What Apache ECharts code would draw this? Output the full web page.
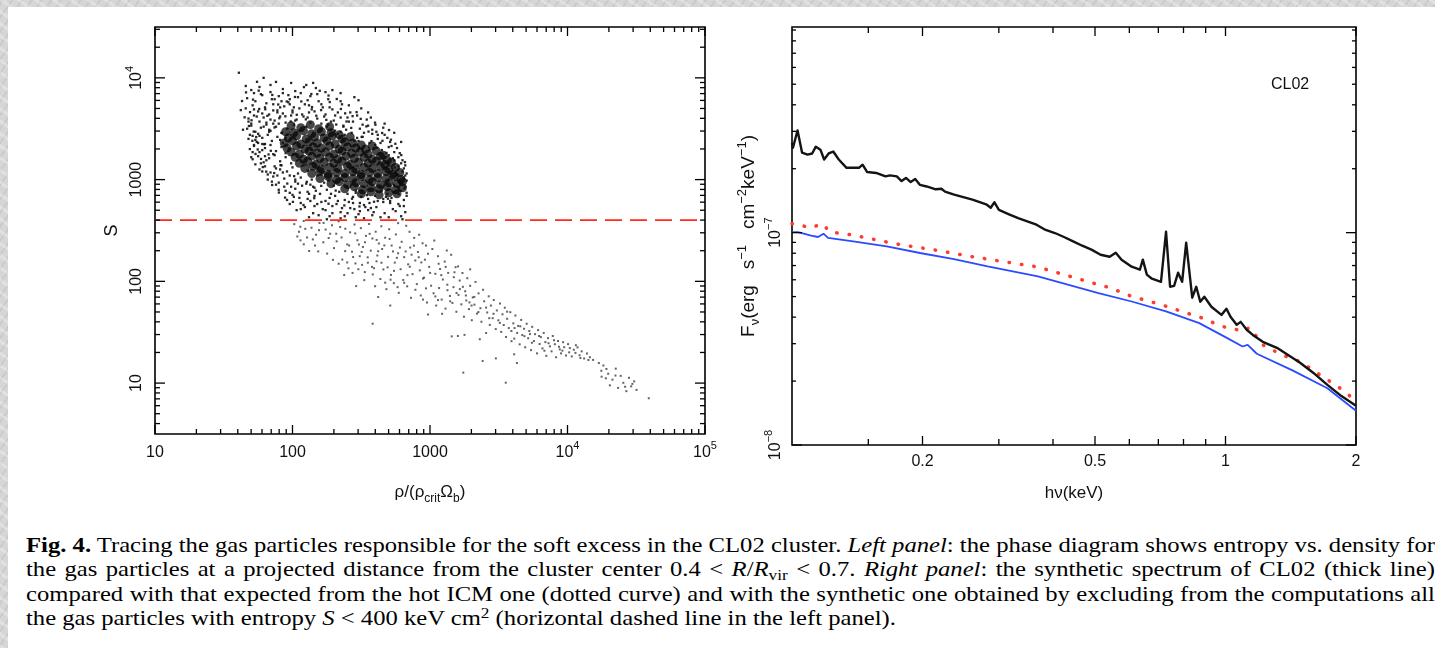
<!DOCTYPE html>
<html>
<head>
<meta charset="utf-8">
<script src="https://cdn.jsdelivr.net/npm/echarts@6/dist/echarts.min.js"></script>
<style>
html,body{margin:0;padding:0;}
body{width:1435px;height:648px;overflow:hidden;position:relative;
  background-color:#d6d6d6;
  background-image:repeating-linear-gradient(35deg,rgba(255,255,255,0.28) 0 3px,rgba(0,0,0,0) 3px 10px),
                   repeating-linear-gradient(-55deg,rgba(0,0,0,0.05) 0 2px,rgba(0,0,0,0) 2px 8px);}
#paper{position:absolute;left:8px;top:7px;right:0;bottom:0;background:#fff;}
#chart{position:absolute;left:0;top:0;width:1435px;height:530px;}
#caption{position:absolute;left:26px;top:533px;width:1258px;transform:scaleX(1.12);transform-origin:0 0;
  font-family:"Liberation Serif","DejaVu Serif",serif;font-size:22px;line-height:24.4px;color:#000;}
#caption div{text-align:justify;text-align-last:justify;white-space:nowrap;}
#caption div.last{text-align-last:left;}
#caption sub{font-size:0.7em;line-height:0;vertical-align:-0.25em;}
#caption sup{font-size:0.7em;line-height:0;vertical-align:0.45em;}
</style>
</head>
<body>
<div id="paper"></div>
<div id="chart"></div>
<div id="caption">
<div><b>Fig. 4.</b> Tracing the gas particles responsible for the soft excess in the CL02 cluster. <i>Left panel</i>: the phase diagram shows entropy vs. density for</div>
<div>the gas particles at a projected distance from the cluster center 0.4 &lt; <i>R</i>/<i>R</i><sub>vir</sub> &lt; 0.7. <i>Right panel</i>: the synthetic spectrum of CL02 (thick line)</div>
<div>compared with that expected from the hot ICM one (dotted curve) and with the synthetic one obtained by excluding from the computations all</div>
<div class="last">the gas particles with entropy <i>S</i> &lt; 400 keV cm<sup>2</sup> (horizontal dashed line in the left panel).</div>
</div>
<script>
// ---------------- LEFT PANEL DATA (log10 rho/(rho_crit Omega_b), log10 S) ----------------
const rhoRange = [10, 1e5];
const entropyRange = [3.16, 31600];
const rhoTickValues = [10, 100, 1000, 1e4, 1e5];
const rhoTickLabels = ['10', '100', '1000', '10^4', '10^5'];
const entropyTickValues = [10, 100, 1000, 1e4];
const entropyTickLabels = ['10', '100', '1000', '10^4'];
const entropyCut = 400;

// dense core of the hot phase
const coreLogPts = [
[1.99,3.53],[2.06,3.51],[2.13,3.54],[2.19,3.50],[2.27,3.52],
[1.95,3.47],[2.01,3.46],[2.08,3.48],[2.14,3.45],[2.21,3.47],[2.28,3.46],[2.34,3.44],
[1.97,3.41],[2.03,3.43],[2.10,3.40],[2.16,3.42],[2.23,3.41],[2.29,3.43],[2.36,3.40],[2.42,3.42],
[1.94,3.36],[2.00,3.38],[2.06,3.35],[2.12,3.37],[2.18,3.36],[2.25,3.38],[2.31,3.35],[2.38,3.37],[2.44,3.36],[2.50,3.34],
[1.96,3.31],[2.03,3.33],[2.09,3.30],[2.15,3.32],[2.21,3.31],[2.27,3.33],[2.34,3.30],[2.40,3.32],[2.46,3.31],[2.53,3.30],[2.58,3.33],
[1.99,3.27],[2.05,3.25],[2.12,3.28],[2.18,3.26],[2.24,3.27],[2.30,3.25],[2.36,3.28],[2.43,3.26],[2.49,3.27],[2.55,3.25],[2.61,3.28],[2.66,3.24],
[2.02,3.22],[2.08,3.20],[2.14,3.23],[2.20,3.21],[2.27,3.22],[2.33,3.20],[2.39,3.23],[2.45,3.21],[2.52,3.22],[2.58,3.20],[2.64,3.23],[2.69,3.19],
[2.05,3.16],[2.11,3.18],[2.17,3.15],[2.23,3.17],[2.30,3.16],[2.36,3.18],[2.42,3.15],[2.48,3.17],[2.55,3.16],[2.61,3.18],[2.67,3.15],[2.72,3.17],
[2.09,3.11],[2.15,3.13],[2.21,3.10],[2.27,3.12],[2.33,3.11],[2.40,3.13],[2.46,3.10],[2.52,3.12],[2.58,3.11],[2.64,3.13],[2.70,3.10],[2.75,3.12],
[2.14,3.06],[2.20,3.08],[2.26,3.05],[2.32,3.07],[2.38,3.06],[2.44,3.08],[2.50,3.05],[2.56,3.07],[2.62,3.06],[2.68,3.08],[2.73,3.05],[2.78,3.07],
[2.20,3.01],[2.26,3.03],[2.32,3.00],[2.38,3.02],[2.44,3.01],[2.50,3.03],[2.56,3.00],[2.62,3.02],[2.68,3.01],[2.74,3.03],[2.79,3.00],
[2.28,2.96],[2.34,2.98],[2.40,2.95],[2.46,2.97],[2.52,2.96],[2.58,2.98],[2.64,2.95],[2.70,2.97],[2.76,2.96],[2.80,2.98],
[2.38,2.91],[2.45,2.93],[2.51,2.90],[2.57,2.92],[2.63,2.91],[2.69,2.93],[2.75,2.90],[2.80,2.92],
[2.50,2.86],[2.57,2.88],[2.63,2.85],[2.70,2.87],[2.76,2.86]
];
// surrounding cloud of the hot phase (above the cut)
const cloudLogPts = [
[1.61,4.05],[1.79,4.00],[1.88,3.96],[1.66,3.92],[2.10,3.93],
[1.70,3.88],[1.76,3.91],[1.84,3.86],[1.93,3.89],[2.02,3.87],[2.17,3.90],[2.24,3.86],[1.72,3.85],
[1.67,3.80],[1.73,3.77],[1.78,3.83],[1.85,3.79],[1.90,3.82],[1.97,3.76],[2.04,3.81],[2.11,3.78],[2.18,3.84],[2.26,3.79],[2.35,3.77],[2.45,3.81],[1.81,3.75],
[1.66,3.70],[1.71,3.73],[1.75,3.67],[1.80,3.71],[1.86,3.74],[1.89,3.68],[1.94,3.72],[2.00,3.66],[2.05,3.70],[2.12,3.73],[2.16,3.67],[2.22,3.71],[2.29,3.69],[2.36,3.74],[2.42,3.66],[2.50,3.70],[1.78,3.65],[1.98,3.74],
[1.68,3.60],[1.72,3.63],[1.76,3.57],[1.79,3.61],[1.83,3.64],[1.87,3.58],[1.91,3.62],[1.95,3.56],[1.99,3.63],[2.03,3.59],[2.08,3.62],[2.13,3.56],[2.18,3.60],[2.24,3.64],[2.30,3.58],[2.35,3.61],[2.41,3.57],[2.47,3.63],[2.54,3.59],[2.60,3.56],[1.70,3.55],[1.93,3.65],[2.21,3.55],
[1.67,3.50],[1.70,3.53],[1.73,3.47],[1.77,3.51],[1.81,3.54],[1.84,3.48],[1.88,3.52],[1.92,3.46],[1.96,3.50],[2.01,3.54],[2.05,3.48],[2.10,3.52],[2.15,3.46],[2.20,3.50],[2.26,3.54],[2.31,3.48],[2.37,3.52],[2.43,3.46],[2.49,3.50],[2.55,3.53],[2.61,3.47],[2.66,3.51],[1.75,3.45],[1.86,3.55],[2.33,3.45],
[1.68,3.40],[1.71,3.43],[1.74,3.37],[1.78,3.41],[1.82,3.44],[1.85,3.38],[1.89,3.42],[1.93,3.36],[2.38,3.44],[2.45,3.38],[2.51,3.42],[2.56,3.36],[2.62,3.40],[2.67,3.44],[2.71,3.37],[1.80,3.35],[1.96,3.44],[2.58,3.45],[1.91,3.39],
[1.69,3.30],[1.72,3.33],[1.76,3.27],[1.80,3.31],[1.84,3.34],[1.88,3.28],[1.92,3.32],[2.60,3.34],[2.65,3.29],[2.70,3.32],[2.74,3.27],[2.76,3.31],[1.95,3.26],[1.78,3.35],[1.86,3.25],
[1.71,3.20],[1.75,3.23],[1.79,3.17],[1.83,3.21],[1.87,3.24],[1.91,3.18],[1.95,3.22],[1.99,3.16],[2.70,3.24],[2.74,3.19],[2.77,3.22],[2.79,3.16],[1.73,3.15],[2.01,3.25],
[1.76,3.10],[1.80,3.13],[1.84,3.07],[1.88,3.11],[1.92,3.14],[1.96,3.08],[2.00,3.12],[2.04,3.06],[2.08,3.14],[2.77,3.13],[2.80,3.08],[2.81,3.11],[1.82,3.05],[2.11,3.09],
[1.82,3.00],[1.86,3.03],[1.90,2.97],[1.94,3.01],[1.98,3.04],[2.02,2.98],[2.06,3.02],[2.10,2.96],[2.14,3.00],[2.18,3.04],[2.23,2.97],[2.82,3.04],[2.83,2.99],[1.88,2.95],[2.26,2.99],
[1.90,2.90],[1.94,2.93],[1.98,2.87],[2.02,2.91],[2.07,2.94],[2.11,2.88],[2.16,2.92],[2.20,2.86],[2.25,2.90],[2.30,2.94],[2.34,2.88],[2.40,2.86],[2.46,2.89],[2.82,2.93],[2.83,2.87],[2.00,2.85],[2.13,2.95],
[1.96,2.80],[2.01,2.83],[2.06,2.77],[2.11,2.81],[2.16,2.84],[2.21,2.78],[2.27,2.82],[2.32,2.76],[2.38,2.80],[2.44,2.83],[2.49,2.77],[2.55,2.81],[2.60,2.84],[2.66,2.78],[2.72,2.82],[2.77,2.76],[2.81,2.80],[2.83,2.84],[2.08,2.75],[2.52,2.75],
[2.03,2.70],[2.09,2.73],[2.15,2.67],[2.22,2.71],[2.29,2.74],[2.35,2.68],[2.42,2.72],[2.48,2.66],[2.55,2.70],[2.61,2.73],[2.67,2.67],[2.73,2.71],[2.78,2.74],[2.82,2.68],[2.19,2.65],[2.58,2.65],
[2.12,2.63],[2.25,2.61],[2.38,2.64],[2.52,2.62],[2.70,2.63],[2.80,2.61]
];
// more scattered hot-phase particles
const cloudExtraLogPts = [
[1.74,3.62],[1.83,3.49],[1.91,3.71],[2.07,3.64],[2.19,3.77],[2.33,3.66],[1.69,3.44],[1.78,3.29],[1.87,3.13],[1.95,3.41],
[2.02,3.58],[2.14,3.69],[2.28,3.57],[2.39,3.49],[2.47,3.41],[2.56,3.29],[2.63,3.17],[2.71,3.06],[2.79,2.95],[2.68,2.83],
[2.57,2.72],[2.44,2.77],[2.31,2.84],[2.17,2.89],[2.04,2.96],[1.93,3.07],[1.81,3.19],[1.72,3.34],[1.79,3.52],[1.86,3.68],
[1.97,3.83],[2.09,3.74],[2.23,3.62],[2.37,3.53],[2.52,3.46],[2.64,3.36],[2.73,3.21],[2.81,3.02],[2.74,2.88],[2.62,2.79],
[2.49,2.69],[2.36,2.72],[2.24,2.79],[2.12,2.86],[1.99,2.93],[1.89,3.04],[1.77,3.16],[1.71,3.27],[1.76,3.43],[1.84,3.59],
[1.92,3.77],[2.06,3.85],[2.21,3.74],[2.31,3.63],[2.44,3.57],[2.58,3.49],[2.69,3.41],[2.78,3.26],[2.82,3.14],[2.79,2.89],
[2.71,2.77],[2.59,2.68],[2.46,2.63],[2.29,2.67],[2.16,2.74],[2.05,2.82],[1.95,2.89],[1.85,2.98],[1.78,3.08],[1.70,3.22],
[1.73,3.39],[1.81,3.56],[1.89,3.66],[1.98,3.79],[2.13,3.82],[2.27,3.71],[2.40,3.61],[2.51,3.54],[2.62,3.44],[2.72,3.33],
[2.80,3.19],[2.83,3.06],[2.77,2.92],[2.66,2.81],[2.53,2.73],[2.41,2.78],[2.28,2.86],[2.15,2.93],[2.02,3.00],[1.91,3.10],
[1.80,3.23],[1.75,3.36],[1.83,3.47],[1.90,3.55],[2.00,3.68],[2.11,3.61],[2.25,3.52],[2.35,3.47],[2.48,3.38],[2.59,3.31],
[1.68,3.57],[1.64,3.49],[1.72,3.69],[1.77,3.84],[1.84,3.93],[2.15,3.95],[2.29,3.88],[2.41,3.73],[2.55,3.66],[2.67,3.55],
[2.74,3.46],[2.79,3.37],[2.57,3.61],[2.48,3.78],[2.35,3.85],[1.99,3.95],[1.93,3.85],[1.87,3.79],[2.01,3.71],[2.12,3.66],
[2.06,2.71],[2.18,2.76],[2.27,2.64],[2.33,2.79],[2.45,2.71],[2.56,2.77],[2.64,2.63],[2.75,2.69],[2.81,2.74],[2.69,2.86],
[2.13,2.79],[2.40,2.67],[2.50,2.83],[2.61,2.89],[2.24,2.70],[1.98,2.76],[2.79,2.64],[2.35,2.62],[2.46,2.87],[2.71,2.79],
[1.702,3.583],[1.736,3.418],[1.758,3.694],[1.793,3.347],[1.817,3.627],[1.842,3.283],[1.869,3.512],[1.896,3.738],[1.923,3.457],[1.948,3.622],
[1.973,3.306],[1.987,3.571],[2.031,3.637],[2.064,3.768],[2.097,3.592],[2.142,3.713],[2.173,3.628],[2.208,3.683],[2.246,3.587],[2.271,3.762],
[2.318,3.541],[2.352,3.694],[2.393,3.571],[2.427,3.508],[2.466,3.663],[2.503,3.419],[2.537,3.523],[2.574,3.378],[2.615,3.314],[2.652,3.458],
[2.683,3.262],[2.716,3.392],[2.743,3.118],[2.768,3.047],[2.794,2.984],[2.813,2.912],[2.772,2.857],[2.738,2.946],[2.694,2.812],[2.647,2.893],
[2.593,2.782],[2.541,2.847],[2.487,2.736],[2.433,2.812],[2.377,2.746],[2.314,2.892],[2.262,2.763],[2.209,2.938],[2.158,2.817],[2.104,2.978],
[2.053,2.872],[2.012,3.034],[1.962,2.961],[1.913,3.142],[1.867,3.064],[1.826,3.247],[1.784,3.123],[1.747,3.296],[1.718,3.472],[1.691,3.663],
[1.713,3.786],[1.754,3.874],[1.802,3.691],[1.853,3.832],[1.904,3.603],[1.958,3.768],[2.018,3.812],[2.083,3.909],[2.137,3.841],[2.198,3.873],
[2.262,3.826],[2.322,3.792],[2.383,3.651],[2.437,3.624],[2.496,3.597],[2.553,3.472],[2.603,3.539],[2.654,3.381],[2.702,3.487],[2.748,3.352],
[2.791,3.241],[2.818,3.172],[1.652,3.612],[1.683,3.527],[1.708,3.381],[1.731,3.252],[1.771,3.203],[1.809,3.078],[1.852,2.947],[1.901,2.873],
[1.946,2.823],[2.003,2.781],[1.633,3.772],[1.662,3.857],[1.742,3.961],[1.624,3.683]
];
// low-entropy tail (below and around the cut)
const tailLogPts = [
[2.013,2.562],[2.047,2.487],[2.082,2.593],[2.106,2.431],[2.138,2.527],[2.171,2.458],[2.196,2.574],[2.224,2.384],[2.241,2.509],[2.263,2.426],[2.287,2.551],[2.302,2.327],[2.058,2.403],[2.164,2.352],[2.093,2.516],[2.318,2.468],[2.336,2.589],[2.121,2.298],[2.252,2.273],[2.035,2.441],
[2.357,2.431],[2.362,2.214],[2.384,2.517],[2.398,2.363],[2.407,2.128],[2.419,2.482],[2.433,2.291],[2.451,2.558],[2.458,2.176],[2.472,2.404],[2.489,2.247],[2.497,2.523],[2.512,2.338],[2.526,2.091],[2.534,2.447],[2.548,2.183],[2.557,2.564],[2.569,2.302],[2.581,2.421],[2.593,2.129],[2.605,2.488],[2.617,2.254],[2.628,2.372],[2.639,2.023],[2.646,2.541],[2.376,2.062],[2.463,1.953],[2.522,2.012],[2.583,1.584],[2.441,2.239],[2.506,2.162],[2.611,2.197],
[2.652,2.318],[2.661,2.117],[2.674,2.429],[2.683,1.923],[2.695,2.241],[2.703,2.512],[2.716,2.063],[2.721,2.352],[2.737,1.982],[2.744,2.184],[2.752,2.461],[2.768,2.276],[2.773,1.887],[2.786,2.119],[2.794,2.389],[2.805,2.013],[2.812,2.238],[2.827,2.546],[2.834,1.951],[2.841,2.167],[2.856,2.332],[2.862,1.838],[2.873,2.071],[2.885,2.427],[2.893,2.205],[2.904,1.973],[2.912,2.289],[2.926,2.108],[2.933,1.861],[2.946,2.374],[2.711,1.762],[2.623,1.846],[2.768,2.572],[2.851,2.487],[2.921,2.458],
[2.957,2.036],[2.963,2.213],[2.978,1.792],[2.986,1.674],[2.994,2.142],[3.008,1.957],[3.017,2.318],[3.026,1.883],[3.039,2.074],[3.045,1.762],[3.058,2.247],[3.066,1.934],[3.073,2.121],[3.085,1.821],[3.094,2.018],[3.107,2.194],[3.113,1.732],[3.126,1.967],[3.132,2.083],[3.145,1.856],[3.154,2.261],[3.163,1.788],[3.171,1.943],[3.186,2.139],[3.192,1.701],[3.207,1.867],[3.216,2.008],[3.228,1.774],[3.236,2.082],[3.247,1.652],[3.031,2.401],[3.122,2.303],[3.204,2.147],[2.971,2.352],[3.088,1.681],
[3.256,1.903],[3.264,1.812],[3.271,2.031],[3.283,1.727],[3.292,1.956],[3.304,1.618],[3.311,1.842],[3.323,1.771],[3.331,1.994],[3.342,1.683],[3.353,1.882],[3.367,1.736],[3.374,1.603],[3.386,1.917],[3.394,1.804],[3.408,1.492],[3.416,1.694],[3.427,1.853],[3.435,1.572],[3.443,1.762],[3.456,1.638],[3.464,1.817],[3.478,1.531],[3.486,1.714],[3.497,1.617],[3.509,1.782],[3.518,1.503],[3.527,1.676],[3.536,1.571],[3.544,1.741],[3.242,1.103],[3.203,1.463],[3.251,1.474],[3.362,1.431],[3.383,1.218],[3.479,1.243],[3.292,2.118],[3.158,1.459],
[3.553,1.453],[3.561,1.632],[3.573,1.541],[3.584,1.697],[3.593,1.412],[3.606,1.587],[3.612,1.283],[3.621,1.664],[3.634,1.493],[3.641,1.562],[3.652,1.381],[3.663,1.621],[3.671,1.472],[3.684,1.534],[3.692,1.352],[3.703,1.583],[3.714,1.441],[3.722,1.512],[3.735,1.324],[3.743,1.553],[3.756,1.413],[3.764,1.481],[3.778,1.292],[3.786,1.521],[3.797,1.384],[3.806,1.452],[3.818,1.341],[3.827,1.493],[3.839,1.403],[3.846,1.268],[3.551,1.004],[3.632,1.198],[3.615,1.541],
[3.858,1.442],[3.872,1.361],[3.884,1.312],[3.893,1.463],[3.908,1.382],[3.917,1.254],[3.931,1.414],[3.944,1.331],[3.953,1.292],[3.968,1.402],[3.976,1.353],[3.989,1.271],[4.004,1.383],[4.017,1.344],[4.031,1.262],[4.046,1.328],[4.058,1.297],[4.073,1.351],[4.088,1.273],[4.103,1.312],[4.121,1.242],[4.142,1.291],[4.163,1.254],[4.186,1.228],
[4.228,1.197],[4.246,1.121],[4.261,1.173],[4.279,1.047],[4.296,1.092],[4.308,0.978],[4.327,1.034],[4.351,1.142],[4.368,0.953],[4.387,1.071],[4.406,1.003],[4.428,0.921],[4.447,1.052],[4.463,0.968],[4.485,1.017],[4.502,0.933],[4.591,0.851]
];
const tailExtraLogPts = [
[2.412,2.352],[2.738,2.103],[2.561,2.467],[3.082,2.061],[2.894,1.917],[2.347,2.534],[3.217,1.924],[2.623,2.296],[2.986,2.271],[2.479,2.119],
[3.147,1.804],[2.781,2.332],[2.674,1.987],[3.302,1.762],[2.527,2.384],[2.853,2.143],[3.039,1.852],[2.398,2.186],[2.937,2.186],[3.173,2.041],
[2.706,2.417],[2.584,2.068],[3.261,1.861],[2.812,1.986],[2.456,2.471],[3.114,2.142],[2.647,2.183],[2.971,1.931],[3.352,1.698],[2.759,2.231],
[2.503,2.289],[3.063,2.173],[2.883,2.351],[2.612,2.407],[3.239,1.946],[2.437,2.083],[2.836,2.061],[3.001,2.083],[2.692,2.138],[3.408,1.742],
[2.547,2.236],[3.193,1.886],[2.764,1.943],[2.918,2.237],[2.383,2.297],[3.127,1.913],[2.668,2.353],[3.287,1.793],[2.823,2.294],[2.578,2.142],
[3.462,1.681],[2.949,2.028],[2.731,2.294],[3.058,1.816],[2.483,2.362],[3.322,1.847],[2.601,1.952],[2.866,2.262],[3.178,2.089],[2.713,2.016],
[3.431,1.638],[2.949,1.821],[3.592,1.512],[3.508,1.592],[3.687,1.461],[3.561,1.702],[3.741,1.396],[3.613,1.437],[3.793,1.463],[3.657,1.558],
[3.862,1.392],[3.727,1.482],[3.938,1.357],[3.832,1.318],[4.012,1.302],[3.902,1.421],[4.094,1.246],[3.963,1.319],[4.152,1.227],[4.061,1.372],
[4.283,1.139],[4.349,1.074],[4.419,0.964],[4.248,1.063],[4.472,0.992],[2.082,2.364],[2.193,2.503],[2.148,2.412],[2.274,2.468],[2.226,2.574],
[2.321,2.393],[2.057,2.537],[2.294,2.211],[2.187,2.294],[2.336,2.173]
];

// ---------------- RIGHT PANEL DATA ----------------
const energyRange = [0.1, 2];
const fluxRange = [1e-8, 9.3e-7];
const energyTickValues = [0.2, 0.5, 1, 2];
const energyTickLabels = ['0.2', '0.5', '1', '2'];
const fluxTickValues = [1e-8, 1e-7];
const fluxTickLabels = ['10^\u22128', '10^\u22127'];
const panelTag = 'CL02';

// synthetic spectrum of CL02 (thick black)
const energyThick = [0.100,0.1005,0.103,0.1055,0.1086,0.1113,0.1135,0.1163,0.1186,0.1215,0.1245,0.1282,0.1336,0.1385,0.1427,0.1455,0.1491,0.1564,0.1643,0.1683,0.1745,0.1789,0.1832,0.1878,0.1924,0.1972,0.2045,0.2146,0.2211,0.2254,0.2366,0.2484,0.2608,0.2805,0.2873,0.2931,0.3001,0.3167,0.3325,0.3489,0.3664,0.3847,0.4040,0.4240,0.4451,0.4673,0.4906,0.5150,0.5405,0.5583,0.5757,0.6076,0.6345,0.6446,0.6585,0.6764,0.7099,0.7292,0.7450,0.7611,0.7775,0.7943,0.8115,0.8381,0.8561,0.8746,0.8935,0.9278,0.9788,1.005,1.027,1.061,1.084,1.119,1.156,1.219,1.314,1.486,1.593,1.718,1.851,2.0];
const fluxThick = [2.65e-7,2.51e-7,3.03e-7,2.38e-7,2.33e-7,2.36e-7,2.54e-7,2.46e-7,2.21e-7,2.36e-7,2.41e-7,2.21e-7,2.02e-7,2.02e-7,2.02e-7,2.09e-7,1.93e-7,1.91e-7,1.84e-7,1.86e-7,1.84e-7,1.75e-7,1.81e-7,1.73e-7,1.79e-7,1.68e-7,1.65e-7,1.60e-7,1.61e-7,1.56e-7,1.51e-7,1.47e-7,1.43e-7,1.36e-7,1.31e-7,1.39e-7,1.28e-7,1.22e-7,1.17e-7,1.13e-7,1.09e-7,1.03e-7,0.996e-7,0.954e-7,0.910e-7,0.868e-7,0.832e-7,0.787e-7,0.770e-7,0.805e-7,0.746e-7,0.691e-7,0.669e-7,0.746e-7,0.634e-7,0.607e-7,0.587e-7,1.01e-7,0.556e-7,0.562e-7,0.648e-7,0.587e-7,0.897e-7,0.494e-7,0.556e-7,0.473e-7,0.499e-7,0.448e-7,0.410e-7,0.438e-7,0.402e-7,0.368e-7,0.380e-7,0.349e-7,0.330e-7,0.306e-7,0.287e-7,0.244e-7,0.219e-7,0.192e-7,0.170e-7,0.153e-7];

// expected from the hot ICM (red dotted)
const energyHot = [0.100,0.1032,0.1095,0.118,0.1219,0.1364,0.1726,0.2163,0.2579,0.3692,0.5093,0.5431,0.6076,0.7138,0.7943,0.8841,0.984,1.038,1.095,1.137,1.219,1.349,1.486,1.718,1.891,1.973];
const fluxHot = [1.10e-7,1.10e-7,1.052e-7,1.10e-7,1.008e-7,0.979e-7,0.887e-7,0.825e-7,0.773e-7,0.689e-7,0.569e-7,0.549e-7,0.501e-7,0.457e-7,0.425e-7,0.396e-7,0.361e-7,0.355e-7,0.342e-7,0.358e-7,0.296e-7,0.266e-7,0.247e-7,0.203e-7,0.178e-7,0.164e-7];

// synthetic without S < 400 particles (blue)
const energyCut = [0.100,0.1033,0.1107,0.1148,0.1182,0.1211,0.1384,0.1654,0.1974,0.2364,0.2826,0.3692,0.5093,0.6076,0.7292,0.8700,0.9947,1.095,1.125,1.181,1.431,1.718,2.0];
const fluxCut = [1.005e-7,1.005e-7,0.968e-7,0.954e-7,0.989e-7,0.944e-7,0.910e-7,0.862e-7,0.802e-7,0.751e-7,0.693e-7,0.622e-7,0.519e-7,0.474e-7,0.426e-7,0.375e-7,0.324e-7,0.291e-7,0.296e-7,0.269e-7,0.224e-7,0.185e-7,0.145e-7];

// ---------------- BUILD ----------------
const L = Math.log10;
const FONT = '"Liberation Sans", Arial, sans-serif';
const richTick = {
  m: {fontSize: 16, fontFamily: FONT, color: '#111', lineHeight: 26},
  s: {fontSize: 11, fontFamily: FONT, color: '#111', lineHeight: 12, verticalAlign: 'top'}
};
function toRich(lbl) {
  const p = lbl.split('^');
  return p.length > 1 ? '{m|' + p[0] + '}{s|' + p[1] + '}' : '{m|' + p[0] + '}';
}
function labelFormatter(values, labels) {
  return function (v) {
    let best = 0;
    values.forEach(function (x, i) { if (Math.abs(L(x) - v) < Math.abs(L(values[best]) - v)) best = i; });
    return toRich(labels[best]);
  };
}
function decadeTicks(lo, hi) {
  const out = [];
  for (let d = Math.floor(L(lo)) - 1; d <= Math.ceil(L(hi)); d++) {
    for (let k = 1; k <= 9; k++) {
      const v = k * Math.pow(10, d);
      if (v >= lo * 0.999 && v <= hi * 1.001) out.push([L(v), k === 1 ? 1 : 0]);
    }
  }
  return out;
}
function tickSeries(gi, xTicks, yTicks, xr, yr, lens) {
  const data = [];
  xTicks.forEach(function (t) { data.push([t[0], yr[0], 0, t[1] ? lens.xMaj : lens.xMin]); });
  yTicks.forEach(function (t) { data.push([xr[0], t[0], 1, t[1] ? lens.yMaj : lens.yMin]); });
  return {
    type: 'custom', xAxisIndex: gi, yAxisIndex: gi, silent: true, clip: false, z: 10,
    encode: {x: 0, y: 1}, data: data,
    renderItem: function (params, api) {
      const kind = api.value(2), len = api.value(3);
      const style = {stroke: '#000', lineWidth: 1.3};
      let a, b, c;
      if (kind === 0) {
        const v = api.value(0);
        a = api.coord([v, yr[0]]); b = api.coord([v, yr[1]]);
        c = [{x1: a[0], y1: a[1], x2: a[0], y2: a[1] - len}, {x1: b[0], y1: b[1], x2: b[0], y2: b[1] + len}];
      } else {
        const v = api.value(1);
        a = api.coord([xr[0], v]); b = api.coord([xr[1], v]);
        c = [{x1: a[0], y1: a[1], x2: a[0] + len, y2: a[1]}, {x1: b[0], y1: b[1], x2: b[0] - len, y2: b[1]}];
      }
      return {type: 'group', children: c.map(function (s) { return {type: 'line', shape: s, style: style}; })};
    }
  };
}

const lx = [L(rhoRange[0]), L(rhoRange[1])];
const ly = [L(entropyRange[0]), L(entropyRange[1])];
const rx = [L(energyRange[0]), L(energyRange[1])];
const ry = [L(fluxRange[0]), L(fluxRange[1])];

const pair = function (xs, ys) { return xs.map(function (x, i) { return [L(x), L(ys[i])]; }); };

const chart = echarts.init(document.getElementById('chart'), null, {renderer: 'canvas'});
chart.setOption({
  animation: false,
  backgroundColor: 'transparent',
  grid: [
    {left: 155, top: 27, width: 550, height: 407, show: true, borderColor: '#000', borderWidth: 1.6, backgroundColor: 'transparent'},
    {left: 792, top: 27, width: 564, height: 418, show: true, borderColor: '#000', borderWidth: 1.6, backgroundColor: 'transparent'}
  ],
  xAxis: [
    {gridIndex: 0, type: 'value', min: lx[0], max: lx[1],
     axisLine: {show: false}, axisTick: {show: false}, splitLine: {show: false},
     axisLabel: {customValues: rhoTickValues.map(L), margin: 6, formatter: labelFormatter(rhoTickValues, rhoTickLabels), rich: richTick},
     name: '{m|\u03c1/(\u03c1}{b|crit}{m|\u03a9}{b|b}{m|)}', nameLocation: 'middle', nameGap: 45,
     nameTextStyle: {rich: {m: {fontSize: 17, fontFamily: FONT, color: '#111', lineHeight: 26}, b: {fontSize: 12, fontFamily: FONT, color: '#111', lineHeight: 12, verticalAlign: 'bottom'}}}},
    {gridIndex: 1, type: 'value', min: rx[0], max: rx[1],
     axisLine: {show: false}, axisTick: {show: false}, splitLine: {show: false},
     axisLabel: {customValues: energyTickValues.map(L), margin: 4, formatter: labelFormatter(energyTickValues, energyTickLabels), rich: richTick},
     name: '{m|h\u03bd(keV)}', nameLocation: 'middle', nameGap: 35,
     nameTextStyle: {rich: {m: {fontSize: 17, fontFamily: FONT, color: '#111', lineHeight: 26}}}}
  ],
  yAxis: [
    {gridIndex: 0, type: 'value', min: ly[0], max: ly[1],
     axisLine: {show: false}, axisTick: {show: false}, splitLine: {show: false},
     axisLabel: {customValues: entropyTickValues.map(L), margin: 5, rotate: 90, formatter: labelFormatter(entropyTickValues, entropyTickLabels), rich: richTick},
     name: '{m|S}', nameLocation: 'middle', nameGap: 31, nameRotate: 90,
     nameTextStyle: {rich: {m: {fontSize: 18, fontFamily: FONT, color: '#111', lineHeight: 24}}}},
    {gridIndex: 1, type: 'value', min: ry[0], max: ry[1],
     axisLine: {show: false}, axisTick: {show: false}, splitLine: {show: false},
     axisLabel: {customValues: fluxTickValues.map(L), margin: 3, rotate: 90, formatter: labelFormatter(fluxTickValues, fluxTickLabels), rich: richTick},
     name: '{m|F}{b|\u03bd}{m|(erg   s}{t|\u22121}{m|   cm}{t|\u22122}{m|keV}{t|\u22121}{m|)}', nameLocation: 'middle', nameGap: 25, nameRotate: 90,
     nameTextStyle: {rich: {
       m: {fontSize: 19, fontFamily: FONT, color: '#111', lineHeight: 26},
       t: {fontSize: 13, fontFamily: FONT, color: '#111', lineHeight: 12, verticalAlign: 'top'},
       b: {fontSize: 13, fontFamily: FONT, color: '#111', lineHeight: 12, verticalAlign: 'bottom'}}}}
  ],
  graphic: [
    {type: 'text', left: 1271, top: 77, style: {text: panelTag, font: '16px ' + FONT, fill: '#111'}}
  ],
  series: [
    {type: 'scatter', xAxisIndex: 0, yAxisIndex: 0, data: tailLogPts, symbol: 'rect', symbolSize: 2, itemStyle: {color: '#3c3c3c', opacity: 0.8}, silent: true},
    {type: 'scatter', xAxisIndex: 0, yAxisIndex: 0, data: tailExtraLogPts, symbol: 'rect', symbolSize: 2, itemStyle: {color: '#3c3c3c', opacity: 0.8}, silent: true},
    {type: 'scatter', xAxisIndex: 0, yAxisIndex: 0, data: coreLogPts, symbol: 'circle', symbolSize: 9, itemStyle: {color: '#000', opacity: 0.72}, silent: true},
    {type: 'scatter', xAxisIndex: 0, yAxisIndex: 0, data: cloudLogPts, symbol: 'rect', symbolSize: 2.3, itemStyle: {color: '#111', opacity: 0.9}, silent: true},
    {type: 'scatter', xAxisIndex: 0, yAxisIndex: 0, data: cloudExtraLogPts, symbol: 'rect', symbolSize: 2.3, itemStyle: {color: '#111', opacity: 0.9}, silent: true},
    {type: 'line', xAxisIndex: 0, yAxisIndex: 0, data: [[lx[0], L(entropyCut)], [lx[1], L(entropyCut)]], symbol: 'none', silent: true,
     lineStyle: {color: '#ff2a1a', width: 1.6, type: [17, 8]}},
    {type: 'line', xAxisIndex: 1, yAxisIndex: 1, data: pair(energyCut, fluxCut), symbol: 'none', silent: true,
     lineStyle: {color: '#2a4bff', width: 1.8}},
    {type: 'line', xAxisIndex: 1, yAxisIndex: 1, data: pair(energyHot, fluxHot), symbol: 'none', silent: true,
     lineStyle: {color: '#ff3b30', width: 3.5, type: [0.5, 12], cap: 'round'}},
    {type: 'line', xAxisIndex: 1, yAxisIndex: 1, data: pair(energyThick, fluxThick), symbol: 'none', silent: true,
     lineStyle: {color: '#141414', width: 2.4, join: 'round'}},
    tickSeries(0, decadeTicks(rhoRange[0], rhoRange[1]), decadeTicks(entropyRange[0], entropyRange[1]), lx, ly, {xMaj: 9, xMin: 5, yMaj: 10, yMin: 5}),
    tickSeries(1,
      [[L(0.15), 0], [L(0.2), 1], [L(0.3), 0], [L(0.4), 0], [L(0.5), 1], [L(0.6), 0], [L(0.7), 0], [L(0.8), 0], [L(0.9), 0], [L(1), 1], [L(2), 1]],
      decadeTicks(fluxRange[0], fluxRange[1]), rx, ry, {xMaj: 9, xMin: 6, yMaj: 10, yMin: 4})
  ]
});
</script>
</body>
</html>
